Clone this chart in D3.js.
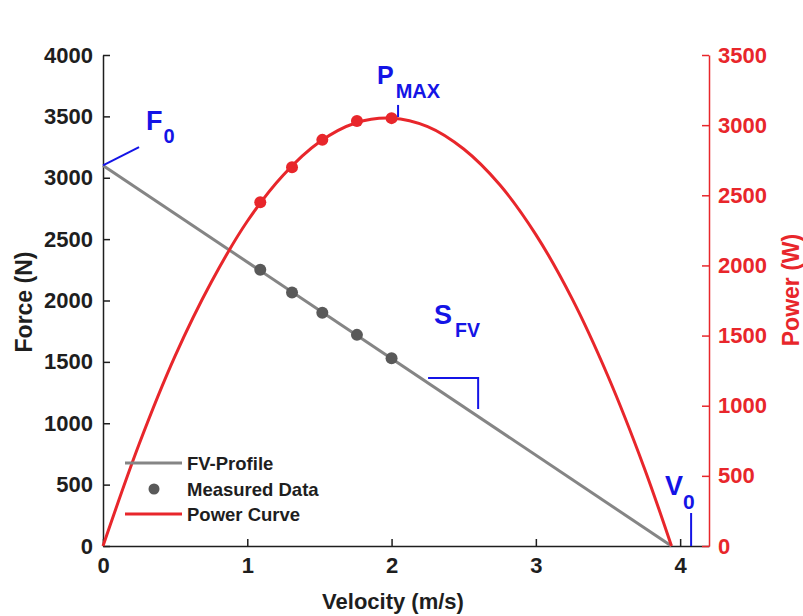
<!DOCTYPE html>
<html>
<head>
<meta charset="utf-8">
<script src="https://cdn.jsdelivr.net/npm/d3@7"></script>
<style>
  html, body { margin: 0; padding: 0; background: #fff; }
  svg { display: block; font-family: "Liberation Sans", Arial, Helvetica, sans-serif; font-weight: bold; }
</style>
</head>
<body>
<svg id="chart" width="803" height="616"></svg>
<script>
// ---- Data ----
const measuredVelocity = [1.09, 1.31, 1.52, 1.76, 2.00];   // m/s
const measuredForce    = [2250, 2065, 1900, 1720, 1530];   // N
const measuredPower    = [2450, 2700, 2895, 3030, 3050];   // W

// FV-profile endpoints: F0 and V0
const profileVelocity = [0, 3.94];
const profileForce    = [3100, 0];

// Power curve samples
const curveVelocity = [0, 0.25, 0.5, 0.75, 1.0, 1.25, 1.5, 1.75, 2.0, 2.25, 2.5, 2.75, 3.0, 3.25, 3.5, 3.75, 3.94];
const curvePower    = [0, 725, 1355, 1880, 2315, 2645, 2880, 3015, 3050, 2990, 2830, 2575, 2220, 1765, 1210, 560, 0];

const xTicks      = [0, 1, 2, 3, 4];
const forceTicks  = [0, 500, 1000, 1500, 2000, 2500, 3000, 3500, 4000];
const powerTicks  = [0, 500, 1000, 1500, 2000, 2500, 3000, 3500];
const legendLabels = ["FV-Profile", "Measured Data", "Power Curve"];

// ---- Styles ----
const RED = "#e8262b", GRAY = "#858585", DOT = "#595959", BLUE = "#1414e6", INK = "#1e1e1e";

const svg = d3.select("#chart");
const x  = d3.scaleLinear().domain([0, 4.2]).range([103, 709]);
const yF = d3.scaleLinear().domain([0, 4000]).range([546, 55]);
const yP = d3.scaleLinear().domain([0, 3500]).range([546, 55]);

// Axes
function styleAxis(g, color, size) {
  g.selectAll("path.domain").attr("stroke", color).attr("stroke-width", 1.5);
  g.selectAll(".tick line").attr("stroke", color).attr("stroke-width", 1.5);
  g.selectAll(".tick text").attr("fill", color).attr("font-size", size)
    .attr("font-weight", "bold").attr("font-family", "Liberation Sans, Arial, sans-serif");
}
const gx = svg.append("g").attr("transform", `translate(0,${yF(0)})`)
  .call(d3.axisBottom(x).tickValues(xTicks).tickFormat(d3.format("d")).tickSizeInner(-7).tickSizeOuter(0).tickPadding(11));
styleAxis(gx, INK, 22);

const gl = svg.append("g").attr("transform", `translate(${x(0)},0)`)
  .call(d3.axisLeft(yF).tickValues(forceTicks).tickFormat(d3.format("d")).tickSizeInner(-7).tickSizeOuter(0).tickPadding(10));
styleAxis(gl, INK, 22);

const gr = svg.append("g").attr("transform", `translate(${x(4.2)},0)`)
  .call(d3.axisRight(yP).tickValues(powerTicks).tickFormat(d3.format("d")).tickSizeInner(-7).tickSizeOuter(0).tickPadding(9));
styleAxis(gr, RED, 22);

// Axis titles
svg.append("text").attr("x", 393).attr("y", 609).attr("text-anchor", "middle")
  .attr("font-size", 22).attr("fill", INK).text("Velocity (m/s)");
svg.append("text").attr("transform", `translate(32,302) rotate(-90)`).attr("text-anchor", "middle")
  .attr("font-size", 23).attr("fill", INK).text("Force (N)");
svg.append("text").attr("transform", `translate(799,290) rotate(-90)`).attr("text-anchor", "middle")
  .attr("font-size", 23).attr("fill", RED).text("Power (W)");

// FV profile line
const profile = profileVelocity.map((v, i) => [v, profileForce[i]]);
svg.append("path").datum(profile)
  .attr("d", d3.line().x(d => x(d[0])).y(d => yF(d[1])))
  .attr("stroke", GRAY).attr("stroke-width", 3).attr("fill", "none");

// Power curve
const curve = curveVelocity.map((v, i) => [v, curvePower[i]]);
svg.append("path").datum(curve)
  .attr("d", d3.line().curve(d3.curveCatmullRom).x(d => x(d[0])).y(d => yP(d[1])))
  .attr("stroke", RED).attr("stroke-width", 3).attr("fill", "none");

// Measured points
svg.append("g").selectAll("circle").data(measuredVelocity).join("circle")
  .attr("cx", d => x(d)).attr("cy", (d, i) => yF(measuredForce[i])).attr("r", 6).attr("fill", DOT);
svg.append("g").selectAll("circle").data(measuredVelocity).join("circle")
  .attr("cx", d => x(d)).attr("cy", (d, i) => yP(measuredPower[i])).attr("r", 6).attr("fill", RED);

// Annotations (data coordinates)
const ann = svg.append("g").attr("stroke", BLUE).attr("stroke-width", 2).attr("fill", "none");
const lineF = d3.line().x(d => x(d[0])).y(d => yF(d[1]));
const lineP = d3.line().x(d => x(d[0])).y(d => yP(d[1]));
ann.append("path").attr("d", lineF([[0, 3100], [0.25, 3250]]));
ann.append("path").attr("d", lineP([[2.045, 3058], [2.045, 3144]]));
ann.append("path").attr("d", lineF([[2.253, 1369], [2.6, 1369], [2.6, 1116]]));
ann.append("path").attr("d", lineF([[4.076, 0], [4.076, 269]]));

function label(xp, yp, main, sub, mainSize, subSize, dx, dy) {
  const t = svg.append("text").attr("x", xp).attr("y", yp).attr("fill", BLUE).attr("font-size", mainSize);
  t.append("tspan").text(main);
  t.append("tspan").attr("dx", dx).attr("dy", dy).attr("font-size", subSize).text(sub);
}
label(146, 130, "F", "0", 27, 20, 1, 13);
label(377, 84, "P", "MAX", 25, 20, 2, 14);
label(434, 324, "S", "FV", 27, 19.5, 3, 13);
label(665, 495, "V", "0", 27, 21, 0, 14);

// Legend
const lg = svg.append("g");
lg.append("line").attr("x1", 125).attr("x2", 182).attr("y1", 463).attr("y2", 463)
  .attr("stroke", GRAY).attr("stroke-width", 3);
lg.append("circle").attr("cx", 154).attr("cy", 489).attr("r", 5.5).attr("fill", DOT);
lg.append("line").attr("x1", 125).attr("x2", 182).attr("y1", 514).attr("y2", 514)
  .attr("stroke", RED).attr("stroke-width", 3);
lg.selectAll("text").data(legendLabels).join("text")
  .attr("x", 187).attr("y", (d, i) => 470 + i * 25.5).attr("font-size", 18.5).attr("fill", INK).text(d => d);
</script>
</body>
</html>
